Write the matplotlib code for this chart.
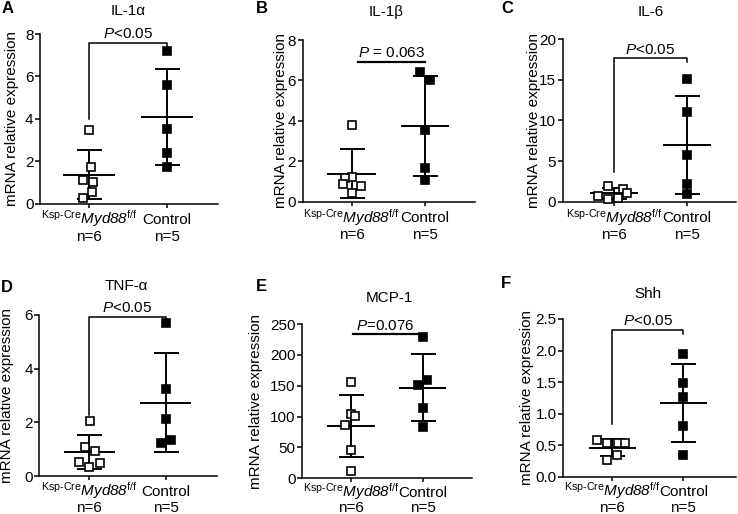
import numpy as np
import matplotlib.pyplot as plt
from matplotlib.ticker import FormatStrFormatter

plt.rcParams['font.family'] = ['Liberation Sans', 'DejaVu Sans']
plt.rcParams['mathtext.fontset'] = 'custom'
plt.rcParams['mathtext.rm'] = 'Liberation Sans'
plt.rcParams['mathtext.it'] = 'Liberation Sans:italic'
plt.rcParams['mathtext.sf'] = 'Liberation Sans:italic'  # italic that keeps digits italic
plt.rcParams['mathtext.bf'] = 'Liberation Sans:bold'

# --- data ---
letters = ['A', 'B', 'C', 'D', 'E', 'F']
titles = ['IL-1α', 'IL-1β', 'IL-6', 'TNF-α', 'MCP-1', 'Shh']
group_labels = [r'$^{\mathrm{Ksp\text{-}Cre}}\mathsf{Myd88}^{\mathrm{f/f}}$', 'Control']
group_n = ['n=6', 'n=5']

ko_il1a = [3.5, 1.75, 1.15, 1.05, 0.55, 0.3]
ctrl_il1a = [7.2, 5.6, 3.55, 2.4, 1.75]
ko_il1b = [3.8, 1.21, 1.16, 0.88, 0.78, 0.45]
ctrl_il1b = [6.44, 6.02, 3.55, 1.65, 1.07]
ko_il6 = [1.97, 1.56, 1.1, 0.7, 0.4, 0.35]
ctrl_il6 = [15.1, 11.1, 5.7, 2.2, 0.9]
ko_tnfa = [2.06, 1.09, 0.92, 0.52, 0.47, 0.35]
ctrl_tnfa = [5.7, 3.23, 2.12, 1.34, 1.24]
ko_mcp1 = [155.5, 104.8, 100.4, 87, 45.9, 11.9]
ctrl_mcp1 = [228.4, 158.7, 150.6, 113.9, 83.7]
ko_shh = [0.576, 0.53, 0.53, 0.54, 0.34, 0.26]
ctrl_shh = [1.945, 1.49, 1.27, 0.81, 0.34]

ko_vals = [ko_il1a, ko_il1b, ko_il6, ko_tnfa, ko_mcp1, ko_shh]
ctrl_vals = [ctrl_il1a, ctrl_il1b, ctrl_il6, ctrl_tnfa, ctrl_mcp1, ctrl_shh]

y_max = [8, 8, 20, 6, 250, 2.5]
y_step = [2, 2, 5, 2, 50, 0.5]
p_text = [r'$\mathit{P}$<0.05', r'$\mathit{P}$ = 0.063', r'$\mathit{P}$<0.05',
          r'$\mathit{P}$<0.05', r'$\mathit{P}$=0.076', r'$\mathit{P}$<0.05']

# --- layout (pixels / offsets) ---
W, H = 738, 514
# left, top, right, bottom in pixels
ax_px = [(40, 34, 218, 204), (302.7, 40, 475, 201.7), (562.7, 39.3, 736, 201.7),
         (39.3, 315, 216.7, 476), (302.3, 324, 471.7, 478.3), (563.3, 319, 736, 476.7)]
xlims = [(-0.628, 1.654), (-0.668, 1.682), (-0.706, 1.678),
         (-0.654, 1.667), (-0.679, 1.683), (-0.69, 1.742)]
# horizontal scatter of the points, in x units
ko_jit = [[0, 0.02, -0.073, 0.056, 0.045, -0.073],
          [0, 0, -0.09, -0.12, 0.13, 0],
          [-0.087, 0.13, 0.18, -0.22, 0.06, -0.08],
          [0.01, -0.06, 0.07, -0.13, 0.14, 0],
          [0, 0, 0.06, -0.08, 0, 0],
          [-0.21, -0.08, 0.085, 0.18, 0.06, -0.08]]
ctrl_jit = [[0, 0, 0, 0, 0],
            [-0.07, 0.07, 0, 0, 0],
            [0, 0, 0, 0, 0],
            [0, 0, 0, 0.065, -0.065],
            [0, 0.065, -0.07, 0, 0],
            [0, 0, 0, 0, 0]]
# bracket: ('b', top, left leg end, right leg end) or ('l', y, x0, x1)
brackets = [('b', 7.6, 4.0, 7.45), ('l', 6.93, 0.09, 1.0), ('b', 17.66, 3.7, 17.2),
            ('b', 5.93, 2.27, 5.85), ('l', 233.8, 0.03, 0.93), ('b', 2.33, 0.83, 2.27)]
ylab_off = [28, 22, 29, 32, 46, 36]
lab_off = [14.5, 14.8, 14.8, 14.2, 13.6, 13.8]
n_off = [26.4, 27, 27, 25.7, 24.6, 25.2]
title_pos = [(128, 15), (386, 16), (651, 16), (126, 290), (389, 301.7), (647.5, 298.3)]
letter_pos = [(2, 13.3), (256, 13.3), (501, 13.3), (1, 291.7), (256, 291), (501, 288.3)]

fig = plt.figure(figsize=(W / 100, H / 100), dpi=100)
lw = 1.4

for i in range(6):
    l, t, r, b = ax_px[i]
    ax = fig.add_axes([l / W, 1 - b / H, (r - l) / W, (b - t) / H])

    for g, (vals, jit, face) in enumerate([(ko_vals[i], ko_jit[i], 'white'),
                                           (ctrl_vals[i], ctrl_jit[i], 'black')]):
        v = np.array(vals)
        m, sd = v.mean(), v.std(ddof=1)
        ax.errorbar(g, m, yerr=sd, fmt='none', ecolor='black', elinewidth=lw,
                    capsize=9, capthick=lw, zorder=2, clip_on=False)
        ax.hlines(m, g - 0.33, g + 0.33, color='black', lw=lw, zorder=2)
        ax.plot(g + np.array(jit), v, 's', ms=5.5, mfc=face, mec='black', mew=1.2,
                zorder=3, clip_on=False)

    kind, a1, a2, a3 = brackets[i]
    if kind == 'b':
        ax.plot([0, 0, 1, 1], [a2, a1, a1, a3], color='black', lw=1.1, clip_on=False)
        ax.annotate(p_text[i], (0.5, a1), xytext=(0, 1), textcoords='offset points',
                    ha='center', va='bottom', fontsize=11)
    else:
        ax.plot([a2, a3], [a1, a1], color='black', lw=1.6, clip_on=False)
        ax.annotate(p_text[i], ((a2 + a3) / 2, a1), xytext=(0, 1), textcoords='offset points',
                    ha='center', va='bottom', fontsize=11)

    ax.set_xlim(*xlims[i])
    ax.set_ylim(0, y_max[i])
    ax.set_yticks(np.arange(0, y_max[i] + y_step[i] / 2, y_step[i]))
    if i == 5:
        ax.yaxis.set_major_formatter(FormatStrFormatter('%.1f'))
    ax.set_xticks([0, 1])
    ax.set_xticklabels(['', ''])
    for g in range(2):
        ax.annotate(group_labels[g], (g, 0), xycoords=('data', 'axes fraction'),
                    xytext=(0, -lab_off[i]), textcoords='offset points',
                    ha='center', va='baseline', fontsize=11)
        ax.annotate(group_n[g], (g, 0), xycoords=('data', 'axes fraction'),
                    xytext=(0, -n_off[i]), textcoords='offset points',
                    ha='center', va='baseline', fontsize=11)
    for s in ['top', 'right']:
        ax.spines[s].set_visible(False)
    for s in ['left', 'bottom']:
        ax.spines[s].set_linewidth(1.1)
    ax.tick_params(axis='y', length=3.5, width=1.1, pad=1.2, labelsize=11)
    ax.tick_params(axis='x', length=3, width=1.1)
    ax.set_ylabel('mRNA relative expression', fontsize=11, va='center')
    ax.yaxis.set_label_coords(-ylab_off[i] / (r - l), 0.5)

    tx, ty = title_pos[i]
    fig.text(tx / W, 1 - ty / H, titles[i], ha='center', va='baseline', fontsize=11)
    lx, ly = letter_pos[i]
    fig.text(lx / W, 1 - ly / H, letters[i], ha='left', va='baseline', fontsize=12,
             fontweight='bold')

fig.savefig('out.png', dpi=100)
